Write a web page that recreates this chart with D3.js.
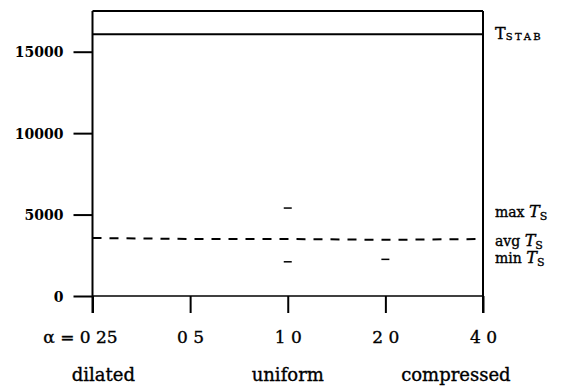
<!DOCTYPE html>
<html><head><meta charset="utf-8">
<script src="https://cdn.jsdelivr.net/npm/d3@7"></script>
<style>
html,body{margin:0;padding:0;background:#fff;}
text{font-family:"DejaVu Serif",serif;fill:#000;stroke:#000;stroke-width:0.35px;}
</style></head>
<body><svg id="c" width="562" height="387"></svg>
<script>
const alphas = [0.25, 0.5, 1.0, 2.0, 4.0];
const alphaLabels = ["\u03b1 = 0 25", "0 5", "1 0", "2 0", "4 0"];
const yTicks = [0, 5000, 10000, 15000];
const tStab = 16070;
const yMaxValue = 17500;
const avgTs = [3560, 3500, 3500, 3450, 3500];
const maxTsAlpha = [1.0];
const maxTs = [5400];
const minTsAlpha = [1.0, 2.0];
const minTs = [2100, 2250];
const regimeAlpha = [0.27, 1.0, 3.3];
const regimeLabels = ["dilated", "uniform", "compressed"];

const svg = d3.select("#c");
const x = d3.scaleLog().base(2).domain([0.25, 4]).range([92.5, 483]);
const y = d3.scaleLinear().domain([0, yMaxValue]).range([296, 11]);
const bottom = 313;

[0.25, 4].forEach(a => {
  svg.append("line").attr("x1", x(a)).attr("x2", x(a)).attr("y1", y(yMaxValue)).attr("y2", bottom)
    .attr("stroke", "#000").attr("stroke-width", 2);
});
svg.append("line").attr("x1", x(0.25)).attr("x2", x(4)).attr("y1", y(yMaxValue)).attr("y2", y(yMaxValue))
  .attr("stroke", "#000").attr("stroke-width", 2);
svg.append("line").attr("x1", x(0.25)).attr("x2", x(4)).attr("y1", y(tStab)).attr("y2", y(tStab))
  .attr("stroke", "#000").attr("stroke-width", 2);
svg.append("line").attr("x1", x(0.25)).attr("x2", x(4)).attr("y1", y(0)).attr("y2", y(0))
  .attr("stroke", "#000").attr("stroke-width", 1.5);

const yAxis = d3.axisLeft(y).tickValues(yTicks).tickSize(19).tickPadding(10).tickFormat(d3.format("d"));
const gy = svg.append("g").attr("transform", `translate(${x(0.25)},0)`).call(yAxis);
gy.select(".domain").remove();
gy.selectAll(".tick line").attr("stroke", "#000").attr("stroke-width", 2);
gy.selectAll(".tick text").style("font-family", "DejaVu Serif").style("font-size", "14px")
  .style("font-weight", "bold").style("stroke-width", "0").attr("dy", "0.36em");

const xAxis = d3.axisBottom(x).tickValues(alphas).tickSize(bottom - y(0)).tickFormat((d, i) => alphaLabels[i]).tickPadding(18);
const gx = svg.append("g").attr("transform", `translate(0,${y(0)})`).call(xAxis);
gx.select(".domain").remove();
gx.selectAll(".tick line").attr("stroke", "#000").attr("stroke-width", 2);
gx.selectAll(".tick text").style("font-family", "DejaVu Serif").style("font-size", "17px");
gx.selectAll(".tick text").filter((d, i) => i === 0).attr("text-anchor", "end").attr("dx", "1.45em");

const line = d3.line().x(d => x(d[0])).y(d => y(d[1]));
svg.append("path").datum(alphas.map((a, i) => [a, avgTs[i]])).attr("d", line)
  .attr("fill", "none").attr("stroke", "#000").attr("stroke-width", 2).attr("stroke-dasharray", "9,8");

const mk = (as, vs) => as.forEach((a, i) => {
  svg.append("line").attr("x1", x(a) - 4).attr("x2", x(a) + 4).attr("y1", y(vs[i])).attr("y2", y(vs[i]))
    .attr("stroke", "#000").attr("stroke-width", 1.5);
});
mk(maxTsAlpha, maxTs);
mk(minTsAlpha, minTs);

svg.selectAll(".reg").data(regimeLabels).enter().append("text")
  .attr("x", (d, i) => x(regimeAlpha[i])).attr("y", 381).attr("text-anchor", "middle")
  .style("font-size", "18px").text(d => d);

const rx = 495;
const ts = svg.append("text").attr("x", rx).attr("y", y(tStab) + 5);
ts.append("tspan").style("font-size", "16px").text("T");
ts.append("tspan").style("font-size", "10px").attr("dy", 1).attr("letter-spacing", "2.5px").text("STAB");

function tsLabel(prefix, val, dy) {
  const t = svg.append("text").attr("x", rx).attr("y", y(val) + dy).style("font-size", "14px");
  t.append("tspan").text(prefix + " ");
  t.append("tspan").style("font-style", "italic").style("font-size", "16px").text("T");
  t.append("tspan").style("font-size", "11px").attr("dy", 3).text("S");
}
tsLabel("max", maxTs[0], 9);
tsLabel("avg", d3.mean(avgTs), 7);
tsLabel("min", minTs[0], 1);
</script></body></html>
